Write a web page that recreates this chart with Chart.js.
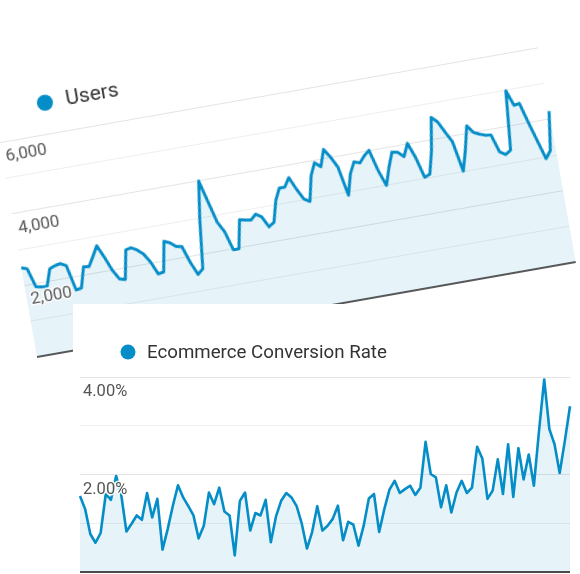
<!DOCTYPE html>
<html><head><meta charset="utf-8">
<script src="https://cdn.jsdelivr.net/npm/chart.js@4.4.1/dist/chart.umd.min.js"></script>
<style>
html,body{margin:0;padding:0;background:#fff;width:580px;height:574px;overflow:hidden;position:relative}
#top{position:absolute;left:16.7px;top:88.7px;width:590px;height:280px;transform-origin:20px 268px;transform:rotate(-10deg)}
#bottom{position:absolute;left:73px;top:304px;width:507px;height:270px;background:#fff}
canvas{display:block}
</style></head><body>
<div id="top"><canvas id="c1" width="590" height="280"></canvas></div>
<div id="bottom"><canvas id="c2" width="507" height="270"></canvas></div>
<script>
// ---- data ----
const users = [2490,2440,1910,1880,1870,2330,2390,2420,2340,1630,1660,2220,2200,2460,2730,2380,1990,1720,1680,2480,
  2510,2420,2280,2030,1670,1700,2530,2460,2330,2300,1830,1470,1600,2950,3995,3390,2790,2500,1965,1970,
  2750,2720,2690,2825,2726,2420,2516,3100,3420,3420,3660,3310,3010,2910,3600,3940,3800,4255,4016,3708,
  2897,3470,3774,3718,3890,4014,3423,2981,3457,3857,3825,3679,4021,3602,3019,3081,3690,4612,4456,4145,
  3850,3000,3550,4211,4001,3924,3870,3850,3350,3250,3345,4973,4540,4566,4000,3472,2943,3145,4217];
const usersTickValues = [2000, 4000, 6000];
const usersTickLabels = ['2,000', '4,000', '6,000'];
const usersLegend = 'Users';

const conversionRate = [1.56,1.29,0.78,0.60,0.80,1.60,1.48,1.97,1.58,0.83,0.99,1.16,1.07,1.62,1.12,1.50,0.46,0.88,1.36,1.78,
  1.53,1.35,1.16,0.69,0.95,1.63,1.39,1.73,1.24,1.16,0.34,1.46,1.63,0.85,1.21,1.16,1.48,0.61,1.14,1.46,
  1.62,1.53,1.35,0.99,0.48,0.82,1.35,0.85,0.95,1.09,1.36,0.65,1.03,0.97,0.54,0.95,1.51,1.60,0.82,1.29,
  1.69,1.87,1.62,1.70,1.77,1.58,1.73,2.67,2.01,1.94,1.33,1.78,1.22,1.63,1.87,1.62,1.73,2.57,2.33,1.50,
  1.67,2.31,1.60,2.62,1.54,2.54,1.90,2.41,1.77,2.90,3.95,2.93,2.62,2.03,2.69,3.40];
const convTickValues = [2, 4];
const convTickLabels = ['2.00%', '4.00%'];
const convLegend = 'Ecommerce Conversion Rate';

const usersDays = users.map((_, i) => 'Day ' + (i + 1));
const convDays = conversionRate.map((_, i) => 'Day ' + (i + 1));

const BLUE = '#058dc7';
const FILL = 'rgba(5,141,199,0.10)';

const gaDecor = {
  id: 'gaDecor',
  afterDatasetsDraw(chart, args, o) {
    const ctx = chart.ctx, a = chart.chartArea, y = chart.scales.y;
    ctx.save();
    const y0 = y.getPixelForValue(0);
    ctx.strokeStyle = o.baseColor; ctx.lineWidth = o.baseWidth;
    ctx.beginPath(); ctx.moveTo(a.left, y0); ctx.lineTo(a.right, y0); ctx.stroke();
    ctx.font = o.tickFont; ctx.textAlign = 'left'; ctx.textBaseline = 'alphabetic';
    ctx.lineJoin = 'round';
    o.ticks.forEach((v, i) => {
      const py = y.getPixelForValue(v) + o.tickDy;
      ctx.lineWidth = 3; ctx.strokeStyle = 'rgba(255,255,255,0.9)';
      ctx.strokeText(o.labels[i], a.left + o.tickDx, py);
      ctx.fillStyle = '#555';
      ctx.fillText(o.labels[i], a.left + o.tickDx, py);
    });
    ctx.fillStyle = BLUE;
    ctx.beginPath(); ctx.arc(a.left + o.dotDx, a.top + o.dotDy, o.dotR, 0, Math.PI * 2); ctx.fill();
    ctx.font = o.legendFont; ctx.fillStyle = '#333'; ctx.textBaseline = 'middle';
    ctx.fillText(o.legend, a.left + o.textDx, a.top + o.dotDy + 1);
    ctx.restore();
  }
};

function gaChart(id, labels, values, max, step, pad, lineW, decor) {
  return new Chart(document.getElementById(id), {
    type: 'line',
    data: { labels: labels, datasets: [{ data: values, borderColor: BLUE, borderWidth: lineW,
      backgroundColor: FILL, fill: 'origin', pointRadius: 0, tension: 0, clip: false,
      borderJoinStyle: 'round' }] },
    options: {
      responsive: false, animation: false, devicePixelRatio: 1,
      layout: { padding: pad },
      plugins: { legend: { display: false }, tooltip: { enabled: false }, gaDecor: decor },
      scales: {
        x: { display: false },
        y: { min: 0, max: max, ticks: { display: false, stepSize: step },
             border: { display: false },
             grid: { drawTicks: false, lineWidth: 1,
               color: c => c.tick.value === 0 ? 'rgba(0,0,0,0)' :
                 (decor.ticks.includes(c.tick.value) ? '#e4e4e4' : '#eeeeee') } }
      }
    },
    plugins: [gaDecor]
  });
}

gaChart('c1', usersDays, users, 6000, 1000, { left: 20, right: 23, top: 50, bottom: 12 }, 3, {
  ticks: usersTickValues, labels: usersTickLabels, legend: usersLegend,
  tickFont: '17px Roboto', tickDx: 4, tickDy: 20, legendFont: '21px Roboto',
  dotDx: 52, dotDy: -31, dotR: 8, textDx: 73, baseColor: '#222', baseWidth: 1.6 });

gaChart('c2', convDays, conversionRate, 4, 1, { left: 7, right: 10, top: 73, bottom: 2 }, 2.6, {
  ticks: convTickValues, labels: convTickLabels, legend: convLegend,
  tickFont: '16.5px Roboto', tickDx: 3, tickDy: 19, legendFont: '18.7px Roboto',
  dotDx: 48, dotDy: -25, dotR: 7.5, textDx: 67, baseColor: '#4a4a4a', baseWidth: 2 });
</script>
</body></html>
